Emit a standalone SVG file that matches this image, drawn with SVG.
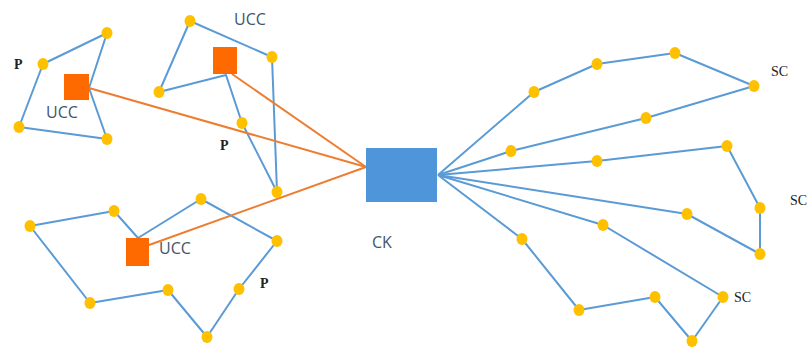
<svg xmlns="http://www.w3.org/2000/svg" width="811" height="347" viewBox="0 0 811 347">
<style>
.b{fill:none;stroke:#5b9bd5;stroke-width:2;stroke-linejoin:round}
.o{fill:none;stroke:#ed7d31;stroke-width:2}
.d{fill:#ffc000}
.sq{fill:#ff6a00}
.ucc{font-family:"Open Sans","Liberation Sans",sans-serif;font-size:16px;fill:#44546a}
.p{font-family:"Liberation Serif",serif;font-size:14px;font-weight:bold;fill:#222}
.sc{font-family:"Liberation Serif",serif;font-size:14px;fill:#222}
</style>
<rect width="811" height="347" fill="#fff"/>
<g id="connectors">
<polyline class="b" points="43,64 107,33 89,88 107,139 19,127 43,64"/>
<polyline class="b" points="190,21 159,92 226,75 242,123 277,192"/>
<polyline class="b" points="190,21 272,57 277,192"/>
<polyline class="b" points="30,226 114,211 138,238 201,199 277,241 239,289 207,337 168,290 90,303 30,226"/>
<line class="o" x1="89" y1="88" x2="366" y2="167"/>
<line class="o" x1="232" y1="74" x2="366" y2="167"/>
<line class="o" x1="149" y1="245" x2="366" y2="167"/>
<polyline class="b" points="438,175 534,92 597,64 675,53 754,86 646,118 511,151 438,175"/>
<polyline class="b" points="438,175 597,161 727,146 760,208 760,254 687,214 438,175"/>
<polyline class="b" points="438,175 603,225 723,297 692,341 655,297 579,310 522,239 438,175"/>
</g>
<g id="cluster1">
<ellipse class="d" cx="43" cy="64" rx="5.5" ry="6"/>
<ellipse class="d" cx="107" cy="33" rx="5.5" ry="6"/>
<ellipse class="d" cx="19" cy="127" rx="5.5" ry="6"/>
<ellipse class="d" cx="107" cy="139" rx="5.5" ry="6"/>
<rect class="sq" x="64" y="74" width="25" height="26"/>
<text class="p" x="14" y="69">P</text>
<text class="ucc" x="46" y="118">UCC</text>
</g>
<g id="cluster2">
<ellipse class="d" cx="190" cy="21" rx="5.5" ry="6"/>
<ellipse class="d" cx="272" cy="57" rx="5.5" ry="6"/>
<ellipse class="d" cx="159" cy="92" rx="5.5" ry="6"/>
<ellipse class="d" cx="242" cy="123" rx="5.5" ry="6"/>
<ellipse class="d" cx="277" cy="192" rx="5.5" ry="6"/>
<rect class="sq" x="213" y="47" width="24" height="27"/>
<text class="ucc" x="234" y="25">UCC</text>
<text class="p" x="220" y="150">P</text>
</g>
<g id="cluster3">
<ellipse class="d" cx="30" cy="226" rx="5.5" ry="6"/>
<ellipse class="d" cx="114" cy="211" rx="5.5" ry="6"/>
<ellipse class="d" cx="201" cy="199" rx="5.5" ry="6"/>
<ellipse class="d" cx="277" cy="241" rx="5.5" ry="6"/>
<ellipse class="d" cx="239" cy="289" rx="5.5" ry="6"/>
<ellipse class="d" cx="207" cy="337" rx="5.5" ry="6"/>
<ellipse class="d" cx="168" cy="290" rx="5.5" ry="6"/>
<ellipse class="d" cx="90" cy="303" rx="5.5" ry="6"/>
<rect class="sq" x="126" y="238" width="23" height="28"/>
<text class="ucc" x="159" y="254">UCC</text>
<text class="p" x="260" y="288">P</text>
</g>
<g id="ck">
<rect x="366" y="148" width="71" height="54" fill="#4e95d9"/>
<text class="ucc" x="372" y="248">CK</text>
</g>
<g id="sc1">
<ellipse class="d" cx="534" cy="92" rx="5.5" ry="6"/>
<ellipse class="d" cx="597" cy="64" rx="5.5" ry="6"/>
<ellipse class="d" cx="675" cy="53" rx="5.5" ry="6"/>
<ellipse class="d" cx="754" cy="86" rx="5.5" ry="6"/>
<ellipse class="d" cx="646" cy="118" rx="5.5" ry="6"/>
<ellipse class="d" cx="511" cy="151" rx="5.5" ry="6"/>
<text class="sc" x="771" y="76">SC</text>
</g>
<g id="sc2">
<ellipse class="d" cx="597" cy="161" rx="5.5" ry="6"/>
<ellipse class="d" cx="727" cy="146" rx="5.5" ry="6"/>
<ellipse class="d" cx="760" cy="208" rx="5.5" ry="6"/>
<ellipse class="d" cx="760" cy="254" rx="5.5" ry="6"/>
<ellipse class="d" cx="687" cy="214" rx="5.5" ry="6"/>
<text class="sc" x="790" y="205">SC</text>
</g>
<g id="sc3">
<ellipse class="d" cx="603" cy="225" rx="5.5" ry="6"/>
<ellipse class="d" cx="723" cy="297" rx="5.5" ry="6"/>
<ellipse class="d" cx="692" cy="341" rx="5.5" ry="6"/>
<ellipse class="d" cx="655" cy="297" rx="5.5" ry="6"/>
<ellipse class="d" cx="579" cy="310" rx="5.5" ry="6"/>
<ellipse class="d" cx="522" cy="239" rx="5.5" ry="6"/>
<text class="sc" x="734" y="302">SC</text>
</g>
</svg>
